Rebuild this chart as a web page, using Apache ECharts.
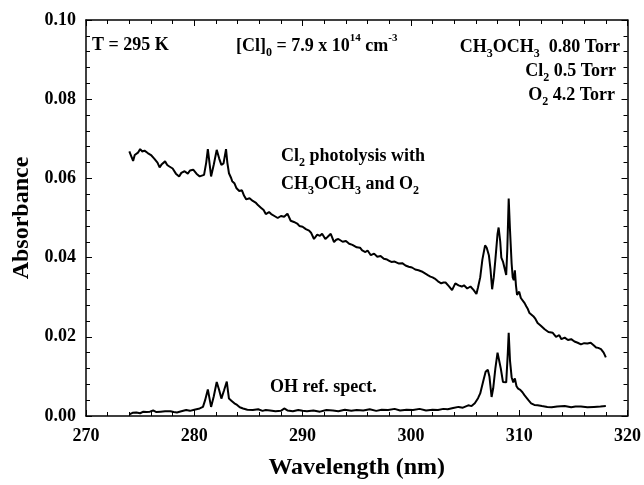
<!DOCTYPE html>
<html>
<head>
<meta charset="utf-8">
<script src="https://cdn.jsdelivr.net/npm/echarts@6/dist/echarts.min.js"></script>
<style>
  html, body { margin: 0; padding: 0; background: #fff; }
  #chart { width: 644px; height: 485px; }
</style>
</head>
<body>
<div id="chart"></div>
<script>
// Cl2 photolysis with CH3OCH3 and O2 (upper trace)
var wlMix = [274.0,274.35,274.5,274.8,275.0,275.2,275.4,275.7,276.0,276.3,276.6,276.8,277.0,277.3,277.5,277.7,278.0,278.3,278.6,278.8,279.1,279.4,279.6,279.9,280.2,280.5,280.7,280.9,281.1,281.25,281.4,281.55,281.8,282.07,282.3,282.5,282.7,282.93,283.05,283.2,283.4,283.5,283.7,283.9,284.15,284.4,284.6,284.8,285.1,285.4,285.7,285.9,286.15,286.4,286.6,286.9,287.1,287.4,287.7,288.0,288.3,288.6,288.9,289.2,289.5,289.7,290.0,290.3,290.6,290.8,291.05,291.35,291.6,291.8,292.1,292.3,292.6,292.9,293.1,293.3,293.7,294.0,294.3,294.6,295.0,295.3,295.5,295.8,296.0,296.3,296.6,296.9,297.2,297.5,297.8,298.0,298.2,298.5,298.9,299.2,299.5,299.8,300.1,300.4,300.7,301.0,301.3,301.6,301.8,302.0,302.2,302.5,302.8,303.0,303.2,303.5,303.8,304.1,304.4,304.7,304.9,305.2,305.5,305.8,306.05,306.2,306.4,306.6,306.85,307.0,307.2,307.35,307.5,307.65,307.8,308.0,308.1,308.25,308.35,308.5,308.6,308.8,308.9,309.03,309.15,309.3,309.4,309.5,309.6,309.7,309.8,310.0,310.15,310.3,310.5,310.65,310.8,310.95,311.1,311.3,311.5,311.7,312.0,312.35,312.7,313.1,313.4,313.7,313.9,314.2,314.5,314.8,315.1,315.4,315.7,316.0,316.3,316.6,316.9,317.1,317.3,317.55,317.8,318.0];
var absMix = [0.0668,0.0644,0.0659,0.0665,0.0674,0.0668,0.0670,0.0664,0.0659,0.0650,0.0640,0.0628,0.0636,0.0643,0.0634,0.0630,0.0625,0.0612,0.0605,0.0614,0.0618,0.0612,0.0620,0.0622,0.0612,0.0605,0.0607,0.0609,0.0640,0.0674,0.0640,0.0605,0.0635,0.0672,0.0650,0.0634,0.0638,0.0674,0.0640,0.0613,0.0601,0.0593,0.0588,0.0575,0.0568,0.0570,0.0556,0.0547,0.0550,0.0543,0.0538,0.0532,0.0526,0.0520,0.0510,0.0515,0.0510,0.0505,0.0500,0.0505,0.0503,0.0511,0.0493,0.0490,0.0486,0.0480,0.0478,0.0472,0.0468,0.0462,0.0447,0.0458,0.0455,0.0460,0.0447,0.0452,0.0460,0.0439,0.0445,0.0447,0.0440,0.0442,0.0435,0.0432,0.0426,0.0425,0.0418,0.0414,0.0418,0.0406,0.0410,0.0402,0.0404,0.0397,0.0395,0.0392,0.0389,0.0390,0.0385,0.0386,0.0380,0.0377,0.0375,0.0370,0.0368,0.0365,0.0360,0.0355,0.0352,0.0350,0.0347,0.0340,0.0335,0.0337,0.0337,0.0328,0.0318,0.0335,0.0330,0.0327,0.0330,0.0322,0.0327,0.0318,0.0308,0.0325,0.0350,0.0395,0.0431,0.0425,0.0406,0.0370,0.0320,0.0350,0.0395,0.0460,0.0476,0.0440,0.0400,0.0390,0.0385,0.0356,0.0420,0.0549,0.0470,0.0385,0.0350,0.0343,0.0368,0.0330,0.0306,0.0314,0.0298,0.0293,0.0285,0.0277,0.0270,0.0260,0.0262,0.0252,0.0245,0.0235,0.0228,0.0219,0.0212,0.0210,0.0200,0.0204,0.0194,0.0198,0.0192,0.0194,0.0188,0.0185,0.0181,0.0184,0.0183,0.0185,0.0178,0.0173,0.0172,0.0169,0.0160,0.0148];

// OH reference spectrum (lower trace)
var wlOH = [274.0,274.3,274.65,275.0,275.3,275.6,275.9,276.2,276.5,276.9,277.3,277.8,278.1,278.4,278.8,279.25,279.6,280.0,280.5,280.8,281.0,281.25,281.4,281.55,281.8,282.07,282.3,282.5,282.75,283.0,283.1,283.2,283.45,283.7,283.95,284.2,284.5,284.9,285.4,285.9,286.3,286.6,287.0,287.5,288.0,288.3,288.6,289.1,289.6,290.0,290.4,291.0,291.6,292.2,292.8,293.3,293.9,294.5,295.0,295.6,296.2,296.8,297.3,297.9,298.5,299.0,299.6,300.2,300.8,301.4,302.0,302.5,303.0,303.4,303.9,304.4,304.8,305.3,305.6,305.9,306.2,306.4,306.7,306.9,307.1,307.25,307.45,307.6,307.8,308.0,308.1,308.3,308.5,308.65,308.8,308.95,309.03,309.15,309.3,309.45,309.6,309.75,309.9,310.1,310.3,310.5,310.65,310.85,311.1,311.4,311.7,312.1,312.6,313.0,313.5,314.2,314.8,315.2,315.7,316.3,316.9,317.5,318.0];
var absOH = [0.0004,0.0008,0.0009,0.0007,0.0011,0.0010,0.0011,0.0014,0.0010,0.0011,0.0012,0.0012,0.0010,0.0009,0.0012,0.0015,0.0013,0.0016,0.0019,0.0023,0.0040,0.0067,0.0045,0.0023,0.0050,0.0086,0.0065,0.0044,0.0065,0.0087,0.0065,0.0044,0.0038,0.0032,0.0028,0.0022,0.0019,0.0016,0.0015,0.0017,0.0013,0.0015,0.0014,0.0012,0.0013,0.0019,0.0014,0.0012,0.0015,0.0013,0.0012,0.0014,0.0011,0.0015,0.0014,0.0012,0.0016,0.0013,0.0015,0.0014,0.0017,0.0013,0.0016,0.0015,0.0018,0.0014,0.0016,0.0015,0.0018,0.0014,0.0016,0.0015,0.0018,0.0017,0.0020,0.0023,0.0021,0.0027,0.0025,0.0032,0.0045,0.0057,0.0090,0.0112,0.0117,0.0100,0.0048,0.0070,0.0120,0.0160,0.0165,0.0120,0.0086,0.0090,0.0085,0.0160,0.0210,0.0140,0.0098,0.0085,0.0095,0.0075,0.0069,0.0066,0.0060,0.0052,0.0048,0.0040,0.0032,0.0028,0.0027,0.0025,0.0023,0.0022,0.0024,0.0025,0.0022,0.0024,0.0024,0.0022,0.0023,0.0024,0.0025];

var xTicks = [270, 280, 290, 300, 310, 320];
var yTicks = [0.00, 0.02, 0.04, 0.06, 0.08, 0.10];

function pairs(xs, ys) {
  return xs.map(function (x, i) { return [x, ys[i]]; });
}

var font = 'Liberation Serif';
var chart = echarts.init(document.getElementById('chart'), null, { renderer: 'canvas' });

var baseX = {
  type: 'value', min: xTicks[0], max: xTicks[xTicks.length - 1], interval: 10,
  axisLine: { show: true, onZero: false, lineStyle: { color: '#000', width: 1.5 } },
  axisTick: { show: true, inside: true, length: 6, lineStyle: { color: '#000', width: 1 } },
  minorTick: { show: true, splitNumber: 5, length: 4, lineStyle: { color: '#000', width: 1 } },
  splitLine: { show: false }
};
var baseY = {
  type: 'value', min: yTicks[0], max: yTicks[yTicks.length - 1], interval: 0.02,
  axisLine: { show: true, onZero: false, lineStyle: { color: '#000', width: 1.5 } },
  axisTick: { show: true, inside: true, length: 6, lineStyle: { color: '#000', width: 1 } },
  minorTick: { show: true, splitNumber: 5, length: 4, lineStyle: { color: '#000', width: 1 } },
  splitLine: { show: false }
};

var rich = {
  n: { fontFamily: font, fontWeight: 'bold', fontSize: 18, lineHeight: 26, color: '#000' },
  sub: { fontFamily: font, fontWeight: 'bold', fontSize: 12, lineHeight: 13, verticalAlign: 'bottom', color: '#000' },
  sup: { fontFamily: font, fontWeight: 'bold', fontSize: 11, lineHeight: 13, verticalAlign: 'top', color: '#000' }
};

function label(x, y, text, align) {
  return {
    type: 'text', x: x, y: y, z: 10,
    style: { text: text, rich: rich, align: align || 'left', verticalAlign: 'middle', fill: '#000',
             font: 'bold 18px ' + font }
  };
}

var option = {
  animation: false,
  backgroundColor: '#fff',
  grid: { left: 86, right: 14, top: 20, bottom: 64, containLabel: false },
  xAxis: [
    Object.assign({}, baseX, {
      position: 'bottom',
      name: 'Wavelength (nm)', nameLocation: 'middle', nameGap: 40,
      nameTextStyle: { fontFamily: font, fontWeight: 'bold', fontSize: 24, color: '#000' },
      axisLabel: { show: true, margin: 11, fontFamily: font, fontWeight: 'bold', fontSize: 18, color: '#000' }
    }),
    Object.assign({}, baseX, { position: 'top', axisLabel: { show: false } })
  ],
  yAxis: [
    Object.assign({}, baseY, {
      position: 'left',
      name: 'Absorbance', nameLocation: 'middle', nameGap: 52, nameRotate: 90,
      nameTextStyle: { fontFamily: font, fontWeight: 'bold', fontSize: 24, color: '#000' },
      axisLabel: { show: true, margin: 10, fontFamily: font, fontWeight: 'bold', fontSize: 18, color: '#000',
                   formatter: function (v) { return v.toFixed(2); } }
    }),
    Object.assign({}, baseY, { position: 'right', axisLabel: { show: false } })
  ],
  series: [
    {
      type: 'line', name: 'mix', data: pairs(wlMix, absMix), showSymbol: false,
      lineStyle: { color: '#000', width: 2 }
    },
    {
      type: 'line', name: 'OH', data: pairs(wlOH, absOH), showSymbol: false,
      lineStyle: { color: '#000', width: 2 }
    }
  ],
  graphic: [
    label(92, 45, '{n|T = 295 K}'),
    label(236, 46, '{n|[Cl]}{sub|0}{n| = 7.9 x 10}{sup|14}{n| cm}{sup|-3}'),
    label(620, 47, '{n|CH}{sub|3}{n|OCH}{sub|3}{n|  0.80 Torr}', 'right'),
    label(616, 71, '{n|Cl}{sub|2}{n| 0.5 Torr}', 'right'),
    label(615, 95, '{n|O}{sub|2}{n| 4.2 Torr}', 'right'),
    label(281, 156, '{n|Cl}{sub|2}{n| photolysis with}'),
    label(281, 184, '{n|CH}{sub|3}{n|OCH}{sub|3}{n| and O}{sub|2}'),
    label(270, 387, '{n|OH ref. spect.}')
  ]
};

chart.setOption(option);
</script>
</body>
</html>
